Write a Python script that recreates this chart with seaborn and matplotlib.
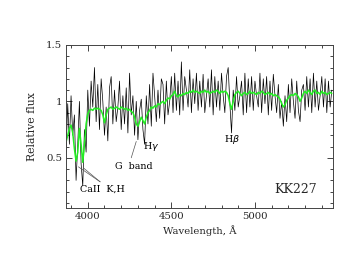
import numpy as np
import pandas as pd
import seaborn as sns
import matplotlib.pyplot as plt
from matplotlib.ticker import MultipleLocator

# wavelength grid of the spectrum, 10 A step
wave = np.arange(3870, 5461, 10)

flux_obs = [
    0.55, 0.98, 0.62, 1.05, 0.70, 0.88, 0.30, 0.62, 1.00, 0.45,
    0.25, 0.75, 0.55, 1.10, 0.78, 1.18, 0.95, 1.30, 0.82, 1.15,
    0.75, 1.20, 1.00, 0.70, 0.95, 0.65, 1.12, 1.22, 0.80, 1.10,
    0.82, 0.95, 1.18, 0.75, 1.05, 0.80, 1.12, 0.72, 1.25, 0.88,
    1.05, 0.70, 1.00, 0.66, 0.92, 1.02, 0.75, 0.62, 1.05, 0.80,
    1.15, 0.78, 1.25, 1.05, 0.82, 1.10, 0.85, 1.20, 1.15, 0.80,
    1.18, 0.88, 1.00, 1.22, 0.90, 1.25, 0.92, 1.18, 0.88, 1.35,
    0.92, 1.22, 1.10, 0.95, 1.28, 0.90, 1.20, 0.98, 1.25, 0.92,
    1.18, 0.95, 1.24, 0.90, 1.05, 1.20, 0.95, 1.28, 0.88, 1.22,
    0.95, 1.18, 0.92, 1.25, 1.05, 0.90, 1.22, 1.30, 0.98, 0.72,
    1.10, 0.92, 1.22, 0.95, 1.05, 1.18, 0.88, 1.25, 0.90, 1.20,
    0.95, 1.22, 0.92, 1.18, 1.05, 0.95, 1.25, 0.90, 1.20, 0.98,
    1.22, 0.88, 1.18, 0.92, 1.24, 1.05, 0.90, 1.15, 0.85, 1.00,
    0.78, 1.05, 0.82, 1.15, 0.90, 1.20, 1.00, 0.85, 1.18, 0.92,
    0.82, 1.10, 1.15, 0.92, 1.22, 0.95, 1.20, 0.90, 1.25, 0.95,
    1.18, 0.92, 1.05, 1.22, 0.95, 1.20, 0.90, 1.18, 0.95, 1.10,
]

# model / template spectrum (green)
flux_model = [
    0.64, 0.70, 0.76, 0.79, 0.72, 0.58, 0.47, 0.55, 0.76, 0.62,
    0.46, 0.62, 0.80, 0.89, 0.92, 0.93, 0.92, 0.94, 0.93, 0.94,
    0.93, 0.92, 0.88, 0.81, 0.88, 0.93, 0.94, 0.95, 0.93, 0.94,
    0.95, 0.94, 0.93, 0.95, 0.94, 0.93, 0.94, 0.92, 0.93, 0.91,
    0.90, 0.86, 0.80, 0.78, 0.82, 0.86, 0.83, 0.80, 0.86, 0.90,
    0.92, 0.95, 0.94, 0.96, 0.95, 0.98, 0.97, 0.99, 1.00, 0.98,
    1.01, 1.03, 1.02, 1.05, 1.06, 1.09, 1.05, 1.04, 1.06, 1.05,
    1.07, 1.06, 1.08, 1.07, 1.09, 1.08, 1.10, 1.08, 1.09, 1.08,
    1.07, 1.09, 1.08, 1.10, 1.08, 1.09, 1.07, 1.08, 1.09, 1.08,
    1.10, 1.09, 1.07, 1.09, 1.08, 1.09, 1.08, 1.05, 0.98, 0.93,
    1.00, 1.06, 1.08, 1.09, 1.07, 1.05, 1.07, 1.08, 1.06, 1.07,
    1.09, 1.07, 1.08, 1.07, 1.06, 1.08, 1.07, 1.09, 1.08, 1.06,
    1.07, 1.08, 1.06, 1.07, 1.05, 1.06, 1.05, 1.04, 1.02, 0.98,
    0.95, 0.97, 1.01, 1.03, 1.05, 1.06, 1.05, 1.07, 1.06, 1.04,
    1.00, 1.03, 1.07, 1.09, 1.07, 1.10, 1.08, 1.06, 1.09, 1.10,
    1.07, 1.08, 1.06, 1.09, 1.07, 1.08, 1.06, 1.07, 1.08, 1.07,
]

spec = pd.DataFrame({"wave": wave, "obs": flux_obs, "model": flux_model})

sns.set_style("ticks")
plt.rcParams["font.family"] = ["DejaVu Serif"]

fig = plt.figure(figsize=(3.44, 2.66), dpi=100)
ax = fig.add_axes([0.192, 0.218, 0.776, 0.613])

sns.lineplot(data=spec, x="wave", y="obs", ax=ax, color="black", lw=0.5, estimator=None)
sns.lineplot(data=spec, x="wave", y="model", ax=ax, color="#22ee22", lw=1.1, estimator=None)

ax.set_xlim(3870, 5467)
ax.set_ylim(0.055, 1.5)
ax.xaxis.set_major_locator(MultipleLocator(500))
ax.xaxis.set_minor_locator(MultipleLocator(100))
ax.yaxis.set_major_locator(MultipleLocator(0.5))
ax.yaxis.set_minor_locator(MultipleLocator(0.1))
ax.set_yticks([0.5, 1.0, 1.5])
ax.set_yticklabels(["0.5", "1", "1.5"])
ax.tick_params(which="both", direction="in", top=True, right=True, labelsize=7.3, width=0.6)
ax.tick_params(which="major", length=4, pad=3)
ax.tick_params(which="minor", length=2.5)
for s in ax.spines.values():
    s.set_linewidth(0.7)
    s.set_color("#444444")

ax.set_xlabel("Wavelength, Å", fontsize=7.3, labelpad=3)
ax.set_ylabel("Relative flux", fontsize=7.8, labelpad=6)

# line identifications
lab = dict(fontsize=6.8, color="black")
ax.plot([4074, 3944], [0.287, 0.42], color="#555555", lw=0.5)
ax.plot([4074, 3974], [0.287, 0.41], color="#555555", lw=0.5)
ax.text(3956, 0.225, "CaII  K,H", va="center", ha="left", **lab)
ax.plot([4260, 4290], [0.50, 0.645], color="#555555", lw=0.5)
ax.text(4161, 0.42, "G  band", va="center", ha="left", **lab)
ax.text(4329, 0.60, "H$\\gamma$", va="center", ha="left", **lab)
ax.text(4862, 0.66, "H$\\beta$", va="center", ha="center", **lab)
ax.text(5370, 0.216, "KK227", va="center", ha="right", fontsize=9)

fig.savefig("out.png", dpi=100)
